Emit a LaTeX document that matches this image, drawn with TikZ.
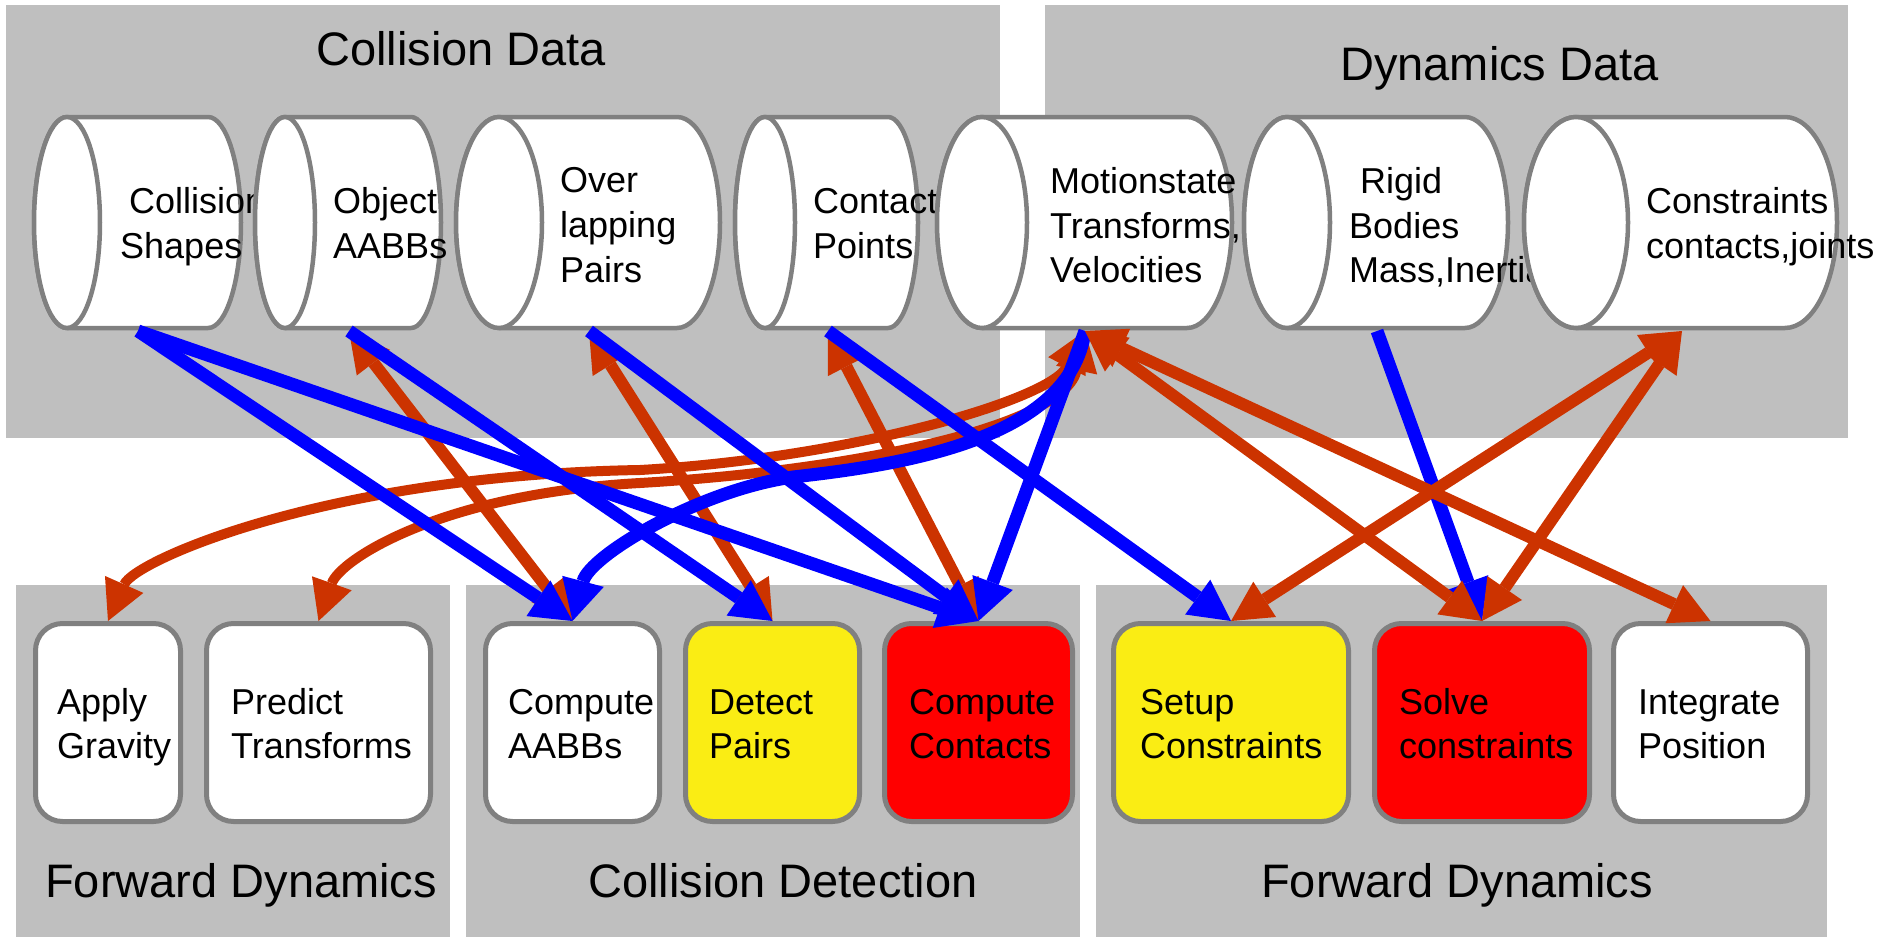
\documentclass[tikz,border=0pt]{standalone}
\usepackage{fontspec}
\setmainfont{Liberation Sans}
\usetikzlibrary{arrows.meta}

\definecolor{panelgray}{RGB}{191,191,191}
\definecolor{edgegray}{RGB}{128,128,128}
\definecolor{readblue}{RGB}{0,0,255}
\definecolor{rworange}{RGB}{204,51,0}
\definecolor{boxyellow}{RGB}{250,237,20}
\definecolor{boxred}{RGB}{255,0,0}

\tikzset{
  panel/.style={fill=panelgray},
  can/.style={fill=white, draw=edgegray, line width=4.5pt},
  taskbox/.style={draw=edgegray, fill=white, line width=5pt, rounded corners=27pt,
                  inner sep=0pt, minimum height=198pt},
  lbl/.style={font=\fontsize{36}{43}\selectfont, inner sep=0pt, anchor=base west},
  title/.style={font=\fontsize{47}{56}\selectfont, inner sep=0pt, anchor=base west},
  readflow/.style={draw=readblue, line width=13pt,
                   -{Triangle[length=41pt,width=43pt,line width=0pt]}},
  rwflow/.style={draw=rworange, line width=12pt,
                 {Triangle[length=40pt,width=42pt,line width=0pt]}-{Triangle[length=40pt,width=42pt,line width=0pt]}},
  rwcurve/.style={rwflow, line width=10pt},
}

% data store drawn as a horizontal cylinder: name, left, right, end radius, port x
\newcommand\dbcan[5]{%
  \path[can] ({#2+#4},117) -- ({#3-#4},117)
     arc[start angle=-90, end angle=90, x radius=#4, y radius=105.5]
     -- ({#2+#4},328)
     arc[start angle=90, end angle=270, x radius=#4, y radius=105.5] -- cycle;
  \path[can] ({#2+#4},222.5) ellipse [x radius=#4, y radius=105.5];
  \coordinate (#1) at (#5,331);
}
\newcommand\txt[4]{\node[lbl] (#1) at (#2,#3) {#4};}

\begin{document}
\begin{tikzpicture}[x=1pt,y=-1pt]
\useasboundingbox (0,0) rectangle (1882,937);

% group panels
\fill[panel] (6,5) rectangle (1000,438);
\fill[panel] (1045,5) rectangle (1848,438);
\fill[panel] (16,585) rectangle (450,937);
\fill[panel] (466,585) rectangle (1080,937);
\fill[panel] (1096,585) rectangle (1827,937);

\node[title] (t-coldata) at (316,65) {Collision Data};
\node[title] (t-dyndata) at (1340,80) {Dynamics Data};
\node[title] (t-fwd1) at (45,897) {Forward Dynamics};
\node[title] (t-coldet) at (588,897) {Collision Detection};
\node[title] (t-fwd2) at (1261,897) {Forward Dynamics};

% data stores (each one covers the overflow of the previous label)
\dbcan{shapes}{34}{241}{33}{138}
\txt{shapes-a}{129}{213}{Collision}
\txt{shapes-b}{120}{258}{Shapes}

\dbcan{aabbs}{255}{441}{30}{349}
\txt{aabbs-a}{333}{213}{Object}
\txt{aabbs-b}{333}{258}{AABBs}

\dbcan{pairs}{456}{720}{43}{589}
\txt{pairs-a}{560}{192}{Over}
\txt{pairs-b}{560}{237}{lapping}
\txt{pairs-c}{560}{282}{Pairs}

\dbcan{contacts}{735}{918}{30}{828}
\txt{contacts-a}{813}{213}{Contact}
\txt{contacts-b}{813}{258}{Points}

\dbcan{motion}{937}{1232}{45}{1085}
\txt{motion-a}{1050}{193}{Motionstate}
\txt{motion-b}{1050}{238}{Transforms,}
\txt{motion-c}{1050}{282}{Velocities}

\dbcan{bodies}{1244}{1508}{43}{1377}
\txt{bodies-a}{1360}{193}{Rigid}
\txt{bodies-b}{1349}{238}{Bodies}
\txt{bodies-c}{1349}{282}{Mass,Inertia}

\dbcan{constr}{1524}{1837}{52}{1682}
\txt{constr-a}{1646}{213}{Constraints}
\txt{constr-b}{1646}{258}{contacts,joints}

% pipeline stages
\node[taskbox, minimum width=145pt] (gravity) at (108,722.5) {};
\node[taskbox, minimum width=224pt] (predict) at (318.5,722.5) {};
\node[taskbox, minimum width=174pt] (cmpaabb) at (572.5,722.5) {};
\node[taskbox, minimum width=174pt, fill=boxyellow] (detect) at (772.5,722.5) {};
\node[taskbox, minimum width=188pt, fill=boxred] (cmpcont) at (978.5,722.5) {};
\node[taskbox, minimum width=235pt, fill=boxyellow] (setup) at (1231,722.5) {};
\node[taskbox, minimum width=215pt, fill=boxred] (solve) at (1482,722.5) {};
\node[taskbox, minimum width=194pt] (integ) at (1710.5,722.5) {};

\txt{gravity-a}{57}{714}{Apply}
\txt{gravity-b}{57}{758}{Gravity}
\txt{predict-a}{231}{714}{Predict}
\txt{predict-b}{231}{758}{Transforms}
\txt{cmpaabb-a}{508}{714}{Compute}
\txt{cmpaabb-b}{508}{758}{AABBs}
\txt{detect-a}{709}{714}{Detect}
\txt{detect-b}{709}{758}{Pairs}
\txt{cmpcont-a}{909}{714}{Compute}
\txt{cmpcont-b}{909}{758}{Contacts}
\txt{setup-a}{1140}{714}{Setup}
\txt{setup-b}{1140}{758}{Constraints}
\txt{solve-a}{1399}{714}{Solve}
\txt{solve-b}{1399}{758}{constraints}
\txt{integ-a}{1638}{714}{Integrate}
\txt{integ-b}{1638}{758}{Position}

% read/write links to the motion states
\draw[rwcurve] (motion) .. controls (1050,400) and (850,458) .. (640,470)
                        .. controls (330,475) and (135,560) .. (gravity.north);
\draw[rwcurve] (motion) .. controls (1065,425) and (860,470) .. (640,483)
                        .. controls (440,494) and (340,560) .. (predict.north);

% read/write links of collision data
\draw[rwflow] (aabbs) -- (cmpaabb.north);
\draw[rwflow] (pairs) -- (detect.north);
\draw[rwflow] (contacts) -- (cmpcont.north);

% read-only links
\draw[readflow] (shapes) -- (cmpaabb.north);
\draw[readflow] (shapes) -- (cmpcont.north);
\draw[readflow] (aabbs) -- (detect.north);
\draw[readflow] (pairs) -- (cmpcont.north);
\draw[readflow] (contacts) -- (setup.north);
\draw[readflow] (motion) -- (cmpcont.north);
\draw[readflow] (motion) .. controls (1070,440) and (900,465) .. (793,477)
                         .. controls (700,490) and (590,555) .. (cmpaabb.north);
\draw[readflow] (bodies) -- (solve.north);

% read/write links of dynamics data
\draw[rwflow] (motion) -- (solve.north);
\draw[rwflow] (motion) -- (integ.north);
\draw[rwflow] (constr) -- (setup.north);
\draw[rwflow] (constr) -- (solve.north);
\end{tikzpicture}
\end{document}
